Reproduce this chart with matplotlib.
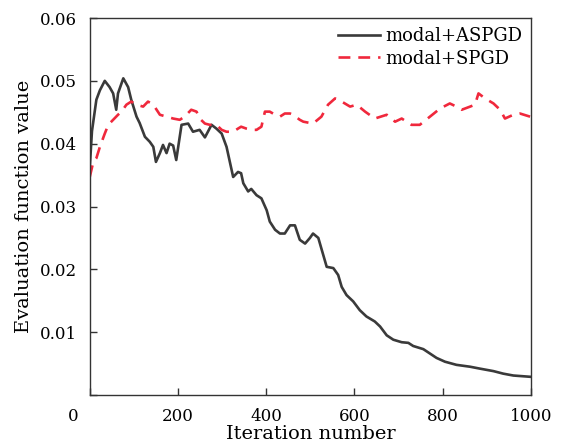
import matplotlib
matplotlib.use("Agg")
import matplotlib.pyplot as plt
from matplotlib.transforms import ScaledTranslation

# ASPGD (black solid)
aspgd_x = [0, 5, 15, 23, 34, 45, 53, 60, 64, 76, 87, 94, 106, 113, 125, 136, 144, 150,
           159, 166, 174, 181, 189, 196, 208, 223, 234, 249, 261, 276, 287, 299, 310,
           325, 336, 343, 348, 359, 366, 378, 389, 401, 408, 420, 431, 442, 454, 465,
           476, 488, 499, 506, 518, 525, 537, 552, 563, 571, 582, 597, 612, 627, 646,
           658, 673, 688, 707, 722, 733, 756, 771, 786, 805, 831, 862, 884, 915, 937,
           960, 998]
aspgd_y = [0.0362, 0.0420, 0.0470, 0.0485, 0.0500, 0.0490, 0.0480, 0.0454, 0.0480,
           0.0504, 0.0490, 0.0470, 0.0443, 0.0433, 0.0411, 0.0403, 0.0395, 0.0371,
           0.0385, 0.0398, 0.0385, 0.0400, 0.0397, 0.0374, 0.0430, 0.0432, 0.0419,
           0.0422, 0.0410, 0.0430, 0.0424, 0.0416, 0.0395, 0.0347, 0.0355, 0.0353,
           0.0337, 0.0324, 0.0328, 0.0318, 0.0313, 0.0294, 0.0276, 0.0263, 0.0257,
           0.0257, 0.0270, 0.0270, 0.0247, 0.0241, 0.0250, 0.0257, 0.0250, 0.0233,
           0.0204, 0.0202, 0.0191, 0.0172, 0.0159, 0.0149, 0.0135, 0.0125, 0.0117,
           0.0109, 0.0095, 0.0088, 0.0084, 0.0083, 0.0078, 0.0073, 0.0066, 0.0059,
           0.0053, 0.0048, 0.0045, 0.0042, 0.0038, 0.0034, 0.0031, 0.0029]

# SPGD (red dashed)
spgd_x = [0, 8, 15, 23, 34, 42, 53, 64, 72, 83, 94, 106, 121, 132, 144, 159, 174, 189,
          204, 215, 230, 242, 249, 261, 272, 287, 299, 310, 325, 336, 343, 355, 367,
          378, 389, 397, 408, 420, 431, 442, 454, 461, 476, 484, 506, 525, 540, 556,
          571, 590, 605, 624, 646, 673, 692, 707, 729, 748, 771, 794, 816, 831, 843,
          862, 873, 881, 896, 915, 930, 941, 960, 975, 998]
spgd_y = [0.0347, 0.0371, 0.0377, 0.0395, 0.0416, 0.0430, 0.0438, 0.0446, 0.0451,
          0.0462, 0.0467, 0.0462, 0.0459, 0.0467, 0.0462, 0.0446, 0.0443, 0.0440,
          0.0438, 0.0443, 0.0454, 0.0451, 0.0440, 0.0432, 0.0430, 0.0430, 0.0422,
          0.0419, 0.0419, 0.0424, 0.0427, 0.0424, 0.0422, 0.0422, 0.0427, 0.0451,
          0.0451, 0.0446, 0.0443, 0.0448, 0.0448, 0.0446, 0.0438, 0.0435, 0.0432,
          0.0443, 0.0462, 0.0472, 0.0467, 0.0459, 0.0462, 0.0451, 0.0440, 0.0446,
          0.0435, 0.0440, 0.0430, 0.0430, 0.0443, 0.0456, 0.0464, 0.0459, 0.0454,
          0.0459, 0.0462, 0.0480, 0.0472, 0.0464, 0.0454, 0.0440, 0.0446, 0.0448,
          0.0443]

x_ticks = [0, 200, 400, 600, 800, 1000]
x_labels = ["0", "200", "400", "600", "800", "1000"]
y_ticks = [0, 0.01, 0.02, 0.03, 0.04, 0.05, 0.06]
y_labels = ["", "0.01", "0.02", "0.03", "0.04", "0.05", "0.06"]

plt.rcParams['font.family'] = ['DejaVu Serif']
fig = plt.figure(figsize=(5.61, 4.48), dpi=100)
ax = fig.add_axes([0.160, 0.1183, 0.7865, 0.8415])

ax.plot(aspgd_x, aspgd_y, color='#3a3a3a', lw=1.9, label='modal+ASPGD')
ax.plot(spgd_x, spgd_y, color='#f0283c', lw=1.9, ls=(0, (4.5, 3)), label='modal+SPGD')

ax.set_xlim(0, 1000)
ax.set_ylim(0, 0.06)
ax.set_xticks(x_ticks)
ax.set_xticklabels(x_labels)
ax.set_yticks(y_ticks)
ax.set_yticklabels(y_labels)
ax.tick_params(direction='in', length=5, width=1, labelsize=12, color='#333333')
ax.tick_params(axis='x', pad=9)
ax.tick_params(axis='y', pad=9)
for s in ax.spines.values():
    s.set_color('#333333')
    s.set_linewidth(1.0)

lbl0 = ax.get_xticklabels()[0]
lbl0.set_transform(lbl0.get_transform() + ScaledTranslation(-0.17, 0.0, fig.dpi_scale_trans))

ax.set_xlabel('Iteration number', fontsize=14, labelpad=0)
ax.set_ylabel('Evaluation function value', fontsize=14, labelpad=5)

ax.legend(loc='upper right', frameon=False, fontsize=13, handlelength=2.3,
          borderaxespad=0.1, labelspacing=0.25, handletextpad=0.3)

fig.savefig('out.png', dpi=100)
